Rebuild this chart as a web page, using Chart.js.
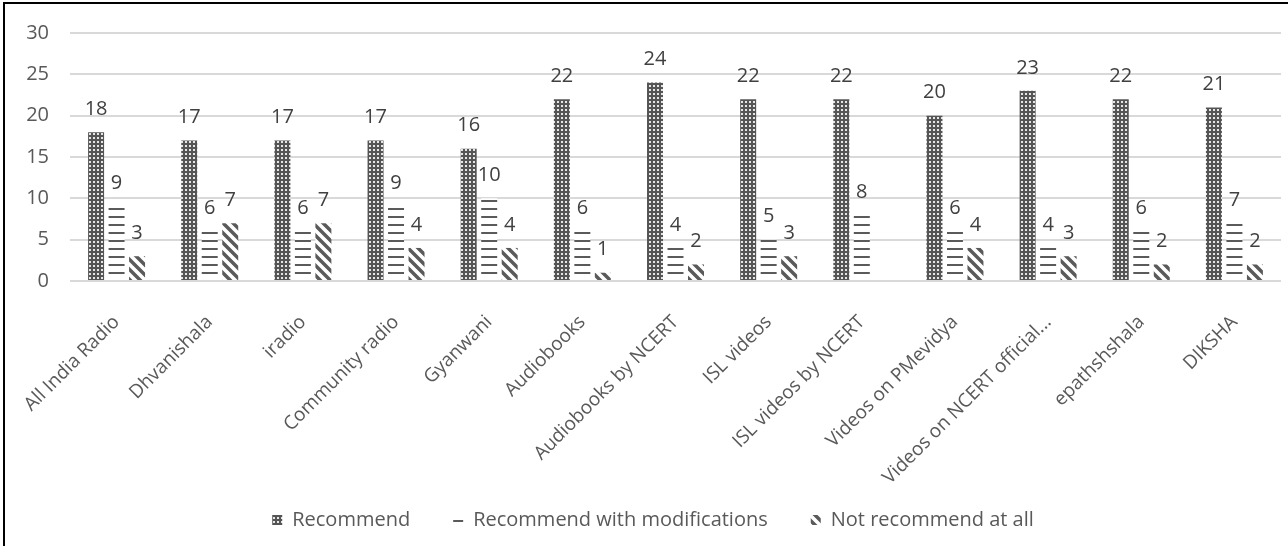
<!DOCTYPE html>
<html lang="en">
<head>
    <meta charset="UTF-8">
    <script src="https://cdn.jsdelivr.net/npm/chart.js"></script>
    <title>Recommendation of platforms</title>
    <style>
        body {
            margin: 0;
            background: #ffffff;
            font-family: "Open Sans", sans-serif;
        }

        #wrap {
            position: relative;
            width: 1288px;
            height: 546px;
            overflow: hidden;
        }

        /* chart frame, only left and top edges are in view */
        #frame {
            position: absolute;
            left: 3px;
            top: 2px;
            width: 1300px;
            height: 560px;
            border-left: 2px solid #000;
            border-top: 2px solid #000;
            pointer-events: none;
        }
    </style>
</head>
<body>
    <div id="wrap">
        <canvas id="chart" width="1288" height="546"></canvas>
        <div id="frame"></div>
    </div>

    <script>
        const categories = ['All India Radio', 'Dhvanishala', 'iradio', 'Community radio', 'Gyanwani',
            'Audiobooks', 'Audiobooks by NCERT', 'ISL videos', 'ISL videos by NCERT',
            'Videos on PMevidya', 'Videos on NCERT official...', 'epathshshala', 'DIKSHA'];
        const recommend = [18, 17, 17, 17, 16, 22, 24, 22, 22, 20, 23, 22, 21];
        const withModifications = [9, 6, 6, 9, 10, 6, 4, 5, 8, 6, 4, 6, 7];
        const notRecommend = [3, 7, 7, 4, 4, 1, 2, 3, null, 4, 3, 2, 2];
        const yTicks = [0, 5, 10, 15, 20, 25, 30];

        const textColor = '#595959';
        const inkColor = '#5a5a5a';
        const fontSize = 20;

        // pattern fills like the Excel ones
        function makePattern(size, draw) {
            const c = document.createElement('canvas');
            c.width = size;
            c.height = size;
            const g = c.getContext('2d');
            draw(g, size);
            return g.createPattern(c, 'repeat');
        }

        const dotsPattern = makePattern(4, (g, s) => {
            g.fillStyle = '#555555';
            g.fillRect(0, 0, s, s);
            g.fillStyle = '#e6e6e6';
            g.fillRect(1, 1, 2, 2);
        });

        const linesPattern = makePattern(8, (g, s) => {
            g.fillStyle = '#ffffff';
            g.fillRect(0, 0, s, s);
            g.fillStyle = inkColor;
            g.fillRect(0, 0, s, 2);
        });

        const diagPattern = makePattern(10, (g, s) => {
            g.fillStyle = '#ffffff';
            g.fillRect(0, 0, s, s);
            g.strokeStyle = inkColor;
            g.lineWidth = 3.5;
            g.beginPath();
            for (let k = -1; k <= 1; k++) {
                g.moveTo(k * s - 2, -2);
                g.lineTo(k * s + s + 2, s + 2);
            }
            g.stroke();
        });

        // value labels above each bar
        const valueLabels = {
            id: 'valueLabels',
            afterDatasetsDraw(chart) {
                const ctx = chart.ctx;
                ctx.save();
                ctx.font = fontSize + 'px "Open Sans"';
                ctx.fillStyle = '#404040';
                ctx.textAlign = 'center';
                ctx.textBaseline = 'middle';
                chart.data.datasets.forEach((ds, i) => {
                    const meta = chart.getDatasetMeta(i);
                    meta.data.forEach((bar, j) => {
                        const v = ds.data[j];
                        if (v === null || v === undefined) return;
                        ctx.fillText(v, bar.x, bar.y - 23);
                    });
                });
                ctx.restore();
            }
        };

        new Chart(document.getElementById('chart'), {
            type: 'bar',
            data: {
                labels: categories,
                datasets: [
                    { label: 'Recommend', data: recommend, backgroundColor: dotsPattern },
                    { label: 'Recommend with modifications', data: withModifications, backgroundColor: linesPattern },
                    { label: 'Not recommend at all', data: notRecommend, backgroundColor: diagPattern }
                ]
            },
            options: {
                responsive: false,
                animation: false,
                events: [],
                borderWidth: 0,
                categoryPercentage: 0.66,
                barPercentage: 0.78,
                layout: {
                    // left padding only moves the legend, the y axis width makes up the rest
                    padding: { left: 25, right: 7, top: 26, bottom: 6 }
                },
                plugins: {
                    tooltip: { enabled: false },
                    legend: {
                        position: 'bottom',
                        labels: {
                            boxWidth: 10,
                            boxHeight: 10,
                            padding: 43,
                            color: textColor,
                            font: { family: 'Open Sans', size: fontSize }
                        }
                    }
                },
                scales: {
                    x: {
                        grid: { display: false },
                        border: { display: false },
                        ticks: {
                            autoSkip: false,
                            minRotation: 45,
                            maxRotation: 45,
                            labelOffset: 0,
                            padding: 22,
                            color: textColor,
                            font: { family: 'Open Sans', size: 19 }
                        },
                        afterFit(scale) {
                            scale.height = 186;
                            // long labels run past the axis box, don't cut them
                            scale._computeLabelArea = () => undefined;
                        }
                    },
                    y: {
                        min: 0,
                        max: 30,
                        afterBuildTicks(scale) {
                            scale.ticks = yTicks.map(v => ({ value: v }));
                        },
                        grid: { color: '#d9d9d9', lineWidth: 2, drawTicks: false },
                        border: { display: false },
                        ticks: {
                            padding: 21,
                            color: textColor,
                            font: { family: 'Open Sans', size: fontSize }
                        },
                        afterFit(scale) {
                            scale.width = 45;
                        }
                    }
                }
            },
            plugins: [valueLabels]
        });
    </script>
</body>
</html>
